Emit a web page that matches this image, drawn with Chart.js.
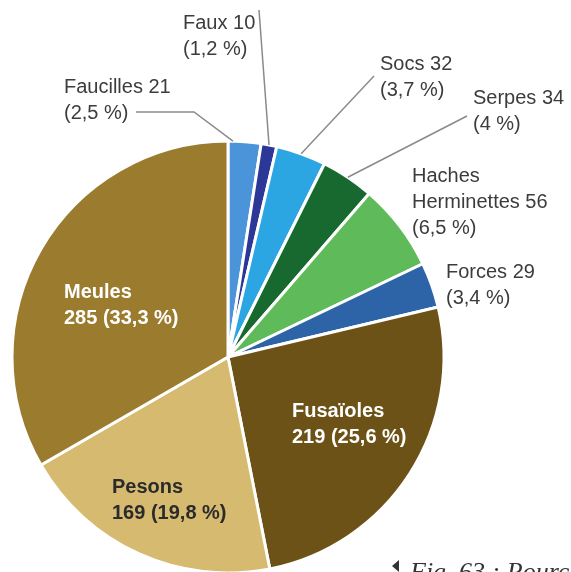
<!DOCTYPE html>
<html lang="fr">
<head>
<meta charset="utf-8">
<title>Mobilier - répartition</title>
<script src="https://cdn.jsdelivr.net/npm/chart.js@4/dist/chart.umd.min.js"></script>
<style>
  html, body { margin: 0; padding: 0; background: #ffffff; }
  #wrap { width: 571px; height: 572px; }
</style>
</head>
<body>
<div id="wrap"><canvas id="pieMobilier" width="571" height="572"></canvas></div>
<script>
// categories, dans l'ordre des secteurs (sens horaire depuis midi)
const categories = ['Faucilles', 'Faux', 'Socs', 'Serpes', 'Haches Herminettes', 'Forces', 'Fusaïoles', 'Pesons', 'Meules'];
const counts = [21, 10, 32, 34, 56, 29, 219, 169, 285];
const percents = ['2,5', '1,2', '3,7', '4', '6,5', '3,4', '25,6', '19,8', '33,3'];
const colors = ['#4b94da', '#2b3897', '#2ba6e2', '#18692f', '#5fba5a', '#2d63a7', '#6d5217', '#d6ba70', '#9b7b2d'];

// placement des étiquettes (x gauche, ligne de base de la 1re ligne)
const labelPos = [
    { x: 64,  y: 93,  lead: [[136, 112], [194, 112]], frac: 0.15 },
    { x: 183, y: 29,  lead: [[259, 10]], frac: 0.5 },
    { x: 380, y: 70,  lead: [[374, 76]], frac: 0.5 },
    { x: 473, y: 104, lead: [[467, 116]], frac: 0.5 },
    { x: 412, y: 182, split: true },
    { x: 446, y: 278 },
    { x: 292, y: 417, inside: true, color: '#ffffff' },
    { x: 112, y: 493, inside: true, color: '#2b2b2b' },
    { x: 64,  y: 298, inside: true, color: '#ffffff' }
];
const lineGap = 26;

const labelPlugin = {
    id: 'pieLabels',
    afterDatasetsDraw(chart) {
        const ctx = chart.ctx;
        const meta = chart.getDatasetMeta(0);
        ctx.save();
        ctx.textAlign = 'left';
        ctx.textBaseline = 'alphabetic';
        categories.forEach((name, i) => {
            const pos = labelPos[i];
            const arc = meta.data[i].getProps(['x', 'y', 'startAngle', 'endAngle', 'outerRadius'], true);

            // trait de rappel vers le secteur
            if (pos.lead) {
                const a = arc.startAngle + pos.frac * (arc.endAngle - arc.startAngle);
                const ex = arc.x + Math.cos(a) * arc.outerRadius;
                const ey = arc.y + Math.sin(a) * arc.outerRadius;
                ctx.strokeStyle = '#8a8a8a';
                ctx.lineWidth = 1.5;
                ctx.beginPath();
                ctx.moveTo(pos.lead[0][0], pos.lead[0][1]);
                pos.lead.slice(1).forEach(p => ctx.lineTo(p[0], p[1]));
                ctx.lineTo(ex, ey);
                ctx.stroke();
            }

            let lines;
            if (pos.inside) {
                lines = [name, counts[i] + ' (' + percents[i] + ' %)'];
                ctx.font = 'bold 20px "Liberation Sans", Arial, sans-serif';
                ctx.fillStyle = pos.color;
            } else {
                if (pos.split) {
                    const words = name.split(' ');
                    lines = [words[0], words.slice(1).join(' ') + ' ' + counts[i]];
                } else {
                    lines = [name + ' ' + counts[i]];
                }
                lines.push('(' + percents[i] + ' %)');
                ctx.font = '20px "Liberation Sans", Arial, sans-serif';
                ctx.fillStyle = '#3c3c3c';
            }
            lines.forEach((t, k) => ctx.fillText(t, pos.x, pos.y + k * lineGap));
        });

        // légende de figure, coupée en bas à droite
        ctx.fillStyle = '#333333';
        ctx.beginPath();
        ctx.moveTo(392, 566);
        ctx.lineTo(399, 560);
        ctx.lineTo(399, 572);
        ctx.closePath();
        ctx.fill();
        ctx.font = 'italic 26px "Liberation Serif", serif';
        ctx.fillText('Fig. 63 : Pourcentages', 410, 580);
        ctx.restore();
    }
};

const ctxPie = document.getElementById('pieMobilier').getContext('2d');
new Chart(ctxPie, {
    type: 'pie',
    data: {
        labels: categories,
        datasets: [{
            data: counts,
            backgroundColor: colors,
            borderColor: '#ffffff',
            borderWidth: 3,
            hoverOffset: 0,
            clip: false
        }]
    },
    options: {
        responsive: false,
        animation: false,
        radius: 216,
        layout: { padding: { left: 10, right: 125, top: 142, bottom: 0 } },
        plugins: {
            legend: { display: false },
            tooltip: { enabled: false }
        }
    },
    plugins: [labelPlugin]
});
</script>
</body>
</html>
